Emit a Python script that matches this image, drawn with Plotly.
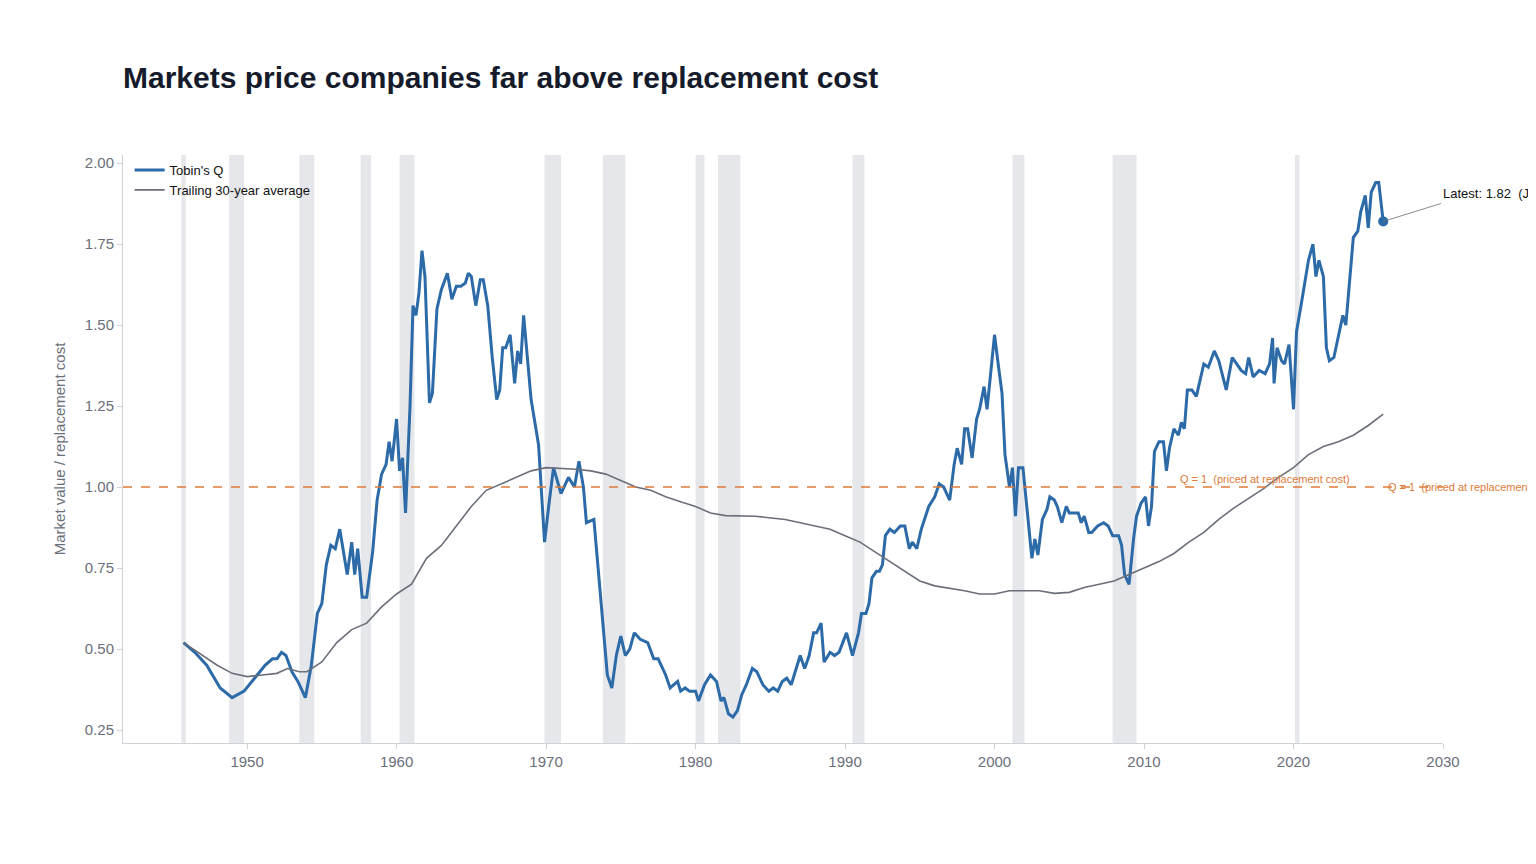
import plotly.graph_objects as go

# Tobin's Q (fractional year, value)
q_year = [1945.75, 1946.5, 1947.3, 1948.2, 1949.0, 1949.8, 1950.5, 1951.2, 1951.7, 1952.0, 1952.3, 1952.6,
          1953.0, 1953.4, 1953.9, 1954.3, 1954.7, 1955.0, 1955.3, 1955.6, 1955.9, 1956.2, 1956.7, 1957.0,
          1957.2, 1957.4, 1957.7, 1958.0, 1958.4, 1958.7, 1959.0, 1959.3, 1959.5, 1959.7, 1960.0, 1960.2,
          1960.4, 1960.6, 1960.9, 1961.1, 1961.3, 1961.5, 1961.7, 1961.9, 1962.2, 1962.4, 1962.7, 1963.0,
          1963.4, 1963.7, 1964.0, 1964.3, 1964.6, 1964.8, 1965.0, 1965.3, 1965.6, 1965.8, 1966.1, 1966.4,
          1966.7, 1966.9, 1967.1, 1967.3, 1967.6, 1967.9, 1968.1, 1968.3, 1968.5, 1968.7, 1969.0, 1969.5,
          1969.9, 1970.2, 1970.5, 1971.0, 1971.5, 1971.9, 1972.2, 1972.5, 1972.7, 1973.2, 1973.5, 1973.8,
          1974.1, 1974.4, 1974.7, 1975.0, 1975.3, 1975.6, 1975.9, 1976.3, 1976.8, 1977.2, 1977.5, 1978.0,
          1978.3, 1978.8, 1979.0, 1979.3, 1979.6, 1980.0, 1980.2, 1980.6, 1981.0, 1981.4, 1981.7, 1981.9,
          1982.2, 1982.5, 1982.8, 1983.1, 1983.4, 1983.8, 1984.1, 1984.5, 1984.9, 1985.2, 1985.5, 1985.8,
          1986.1, 1986.4, 1986.8, 1987.0, 1987.3, 1987.6, 1987.9, 1988.1, 1988.4, 1988.6, 1989.0, 1989.3,
          1989.6, 1990.1, 1990.5, 1990.9, 1991.1, 1991.4, 1991.6, 1991.8, 1992.1, 1992.3, 1992.5, 1992.7,
          1993.0, 1993.3, 1993.7, 1994.0, 1994.3, 1994.5, 1994.8, 1995.1, 1995.6, 1996.0, 1996.3, 1996.6,
          1997.0, 1997.3, 1997.5, 1997.8, 1998.0, 1998.2, 1998.5, 1998.8, 1999.0, 1999.3, 1999.5, 1999.8,
          2000.0, 2000.3, 2000.5, 2000.7, 2001.0, 2001.2, 2001.4, 2001.6, 2001.9, 2002.2, 2002.5, 2002.7,
          2002.9, 2003.2, 2003.5, 2003.7, 2004.0, 2004.2, 2004.5, 2004.8, 2005.0, 2005.4, 2005.6, 2005.8,
          2006.0, 2006.3, 2006.5, 2006.9, 2007.3, 2007.6, 2007.9, 2008.3, 2008.5, 2008.7, 2009.0, 2009.3,
          2009.5, 2009.8, 2010.1, 2010.3, 2010.5, 2010.7, 2011.0, 2011.3, 2011.5, 2011.7, 2012.0, 2012.3,
          2012.5, 2012.7, 2012.9, 2013.2, 2013.5, 2014.0, 2014.3, 2014.7, 2015.0, 2015.5, 2015.9, 2016.2,
          2016.5, 2016.8, 2017.0, 2017.3, 2017.7, 2018.1, 2018.4, 2018.6, 2018.7, 2018.9, 2019.2, 2019.4,
          2019.7, 2020.0, 2020.2, 2020.5, 2020.8, 2021.0, 2021.3, 2021.5, 2021.7, 2022.0, 2022.2, 2022.4,
          2022.7, 2023.0, 2023.3, 2023.5, 2023.8, 2024.0, 2024.3, 2024.5, 2024.8, 2025.0, 2025.2, 2025.5,
          2025.7, 2026.0]
q_value = [0.52, 0.49, 0.45, 0.38, 0.35, 0.37, 0.41, 0.45, 0.47, 0.47, 0.49, 0.48,
           0.43, 0.40, 0.35, 0.45, 0.61, 0.64, 0.76, 0.82, 0.81, 0.87, 0.73, 0.83,
           0.73, 0.81, 0.66, 0.66, 0.80, 0.96, 1.04, 1.07, 1.14, 1.08, 1.21, 1.05,
           1.09, 0.92, 1.25, 1.56, 1.53, 1.60, 1.73, 1.65, 1.26, 1.29, 1.55, 1.61,
           1.66, 1.58, 1.62, 1.62, 1.63, 1.66, 1.65, 1.56, 1.64, 1.64, 1.56, 1.40,
           1.27, 1.30, 1.43, 1.43, 1.47, 1.32, 1.42, 1.38, 1.53, 1.43, 1.27, 1.13,
           0.83, 0.95, 1.06, 0.98, 1.03, 1.00, 1.08, 1.00, 0.89, 0.90, 0.74, 0.60,
           0.42, 0.38, 0.48, 0.54, 0.48, 0.50, 0.55, 0.53, 0.52, 0.47, 0.47, 0.42,
           0.38, 0.40, 0.37, 0.38, 0.37, 0.37, 0.34, 0.39, 0.42, 0.40, 0.34, 0.35,
           0.30, 0.29, 0.31, 0.36, 0.39, 0.44, 0.43, 0.39, 0.37, 0.38, 0.37, 0.40,
           0.41, 0.39, 0.45, 0.48, 0.44, 0.48, 0.55, 0.55, 0.58, 0.46, 0.49, 0.48,
           0.49, 0.55, 0.48, 0.55, 0.61, 0.61, 0.64, 0.72, 0.74, 0.74, 0.76, 0.85,
           0.87, 0.86, 0.88, 0.88, 0.81, 0.83, 0.81, 0.87, 0.94, 0.97, 1.01, 1.00,
           0.96, 1.07, 1.12, 1.07, 1.18, 1.18, 1.09, 1.21, 1.24, 1.31, 1.24, 1.38,
           1.47, 1.36, 1.29, 1.10, 1.00, 1.06, 0.91, 1.06, 1.06, 0.92, 0.78, 0.84,
           0.79, 0.90, 0.93, 0.97, 0.96, 0.94, 0.89, 0.94, 0.92, 0.92, 0.92, 0.89,
           0.91, 0.86, 0.86, 0.88, 0.89, 0.88, 0.85, 0.85, 0.82, 0.73, 0.70, 0.84,
           0.91, 0.95, 0.97, 0.88, 0.94, 1.11, 1.14, 1.14, 1.05, 1.12, 1.18, 1.16,
           1.20, 1.18, 1.30, 1.30, 1.28, 1.38, 1.37, 1.42, 1.39, 1.30, 1.40, 1.38,
           1.36, 1.35, 1.40, 1.34, 1.36, 1.35, 1.38, 1.46, 1.32, 1.43, 1.39, 1.38,
           1.44, 1.24, 1.48, 1.56, 1.65, 1.70, 1.75, 1.65, 1.70, 1.65, 1.43, 1.39,
           1.40, 1.47, 1.53, 1.50, 1.67, 1.77, 1.79, 1.85, 1.90, 1.80, 1.91, 1.94,
           1.94, 1.82]

avg_year = [1945.75, 1947, 1948, 1949, 1950, 1951, 1952, 1952.7, 1953.5, 1954, 1955, 1956, 1957, 1958,
            1959, 1960, 1961, 1962, 1963, 1964, 1965, 1966, 1967, 1968, 1969, 1970, 1972, 1973, 1974,
            1975, 1976, 1977, 1978, 1979, 1980, 1981, 1982, 1984, 1986, 1988, 1989, 1990, 1991, 1992,
            1993, 1994, 1995, 1996, 1998, 1999, 2000, 2001, 2003, 2004, 2005, 2006, 2007, 2008, 2009,
            2010, 2011, 2012, 2013, 2014, 2015, 2016, 2017, 2018, 2019, 2020, 2021, 2022, 2023, 2024,
            2025, 2026]
avg_value = [0.52, 0.48, 0.45, 0.425, 0.415, 0.42, 0.425, 0.44, 0.43, 0.43, 0.46, 0.52, 0.56, 0.58,
             0.63, 0.67, 0.70, 0.78, 0.82, 0.88, 0.94, 0.99, 1.01, 1.03, 1.05, 1.06, 1.055, 1.05, 1.04,
             1.02, 1.00, 0.99, 0.97, 0.955, 0.94, 0.92, 0.912, 0.91, 0.90, 0.88, 0.87, 0.85, 0.83, 0.80,
             0.77, 0.74, 0.71, 0.695, 0.68, 0.67, 0.67, 0.68, 0.68, 0.672, 0.675, 0.69, 0.70, 0.71, 0.73,
             0.75, 0.77, 0.795, 0.83, 0.86, 0.90, 0.935, 0.965, 0.995, 1.03, 1.06, 1.10, 1.125, 1.14, 1.16,
             1.19, 1.225]

recession_start = [1945.6, 1948.8, 1953.5, 1957.6, 1960.2, 1969.9, 1973.8, 1980.0, 1981.5, 1990.5, 2001.2, 2007.9, 2020.1]
recession_end = [1945.9, 1949.8, 1954.5, 1958.3, 1961.2, 1971.0, 1975.3, 1980.6, 1983.0, 1991.3, 2002.0, 2009.5, 2020.4]

latest_year = 2026.0
latest_value = 1.82

BLUE = '#2c6aa8'
GRAY = '#6b6f7a'
ORANGE = '#e07b39'

fig = go.Figure()

for s, e in zip(recession_start, recession_end):
    fig.add_vrect(x0=s, x1=e, fillcolor='#e5e7eb', opacity=1, line_width=0, layer='below')

fig.add_hline(y=1.0, line=dict(color=ORANGE, width=1.5, dash='dash'))

fig.add_trace(go.Scatter(x=q_year, y=q_value, mode='lines', name="Tobin's Q",
                         line=dict(color=BLUE, width=3)))
fig.add_trace(go.Scatter(x=avg_year, y=avg_value, mode='lines', name='Trailing 30-year average',
                         line=dict(color=GRAY, width=1.6)))
fig.add_trace(go.Scatter(x=[latest_year], y=[latest_value], mode='markers', showlegend=False,
                         marker=dict(color=BLUE, size=10)))

fig.add_annotation(x=latest_year, y=latest_value, text='Latest: 1.82  (Jan 2026)',
                   showarrow=True, arrowhead=0, arrowwidth=0.8, arrowcolor=GRAY,
                   ax=58, ay=-18, xanchor='left', yanchor='bottom',
                   font=dict(size=13, color='#111'))
fig.add_annotation(x=2012.3, y=1.0, text='Q = 1  (priced at replacement cost)', showarrow=False,
                   xanchor='left', yanchor='bottom', font=dict(size=11, color=ORANGE))
fig.add_annotation(x=2026.2, y=1.0, text='Q = 1  (priced at replacement cost)', showarrow=False,
                   xanchor='left', yanchor='middle', font=dict(size=11, color=ORANGE))

fig.update_layout(
    title=dict(text='<b>Markets price companies far above replacement cost</b>',
               x=115 / 1536, xanchor='left', y=0.932, font=dict(size=30, color='#161b2b')),
    width=1536, height=864,
    margin=dict(l=115, r=101, t=147, b=129),
    plot_bgcolor='white', paper_bgcolor='white',
    font=dict(family='Liberation Sans, Arial, sans-serif', color='#6b6f7a', size=15),
    legend=dict(x=0.005, y=1.0, xanchor='left', yanchor='top', bgcolor='rgba(0,0,0,0)',
                font=dict(size=13, color='#111')),
    xaxis=dict(range=[1941.7, 2030], tickvals=[1950, 1960, 1970, 1980, 1990, 2000, 2010, 2020, 2030],
               showgrid=False, zeroline=False, showline=True, linecolor='#cfd2d8', linewidth=1,
               ticks='outside', ticklen=5, tickcolor='#cfd2d8'),
    yaxis=dict(range=[0.21, 2.025], tickvals=[0.25, 0.5, 0.75, 1.0, 1.25, 1.5, 1.75, 2.0],
               tickformat='.2f', showgrid=False, zeroline=False, showline=True, linecolor='#cfd2d8',
               linewidth=1, ticks='outside', ticklen=5, tickcolor='#cfd2d8',
               title=dict(text='Market value / replacement cost', font=dict(size=15))),
)

fig.write_html('out.html')
